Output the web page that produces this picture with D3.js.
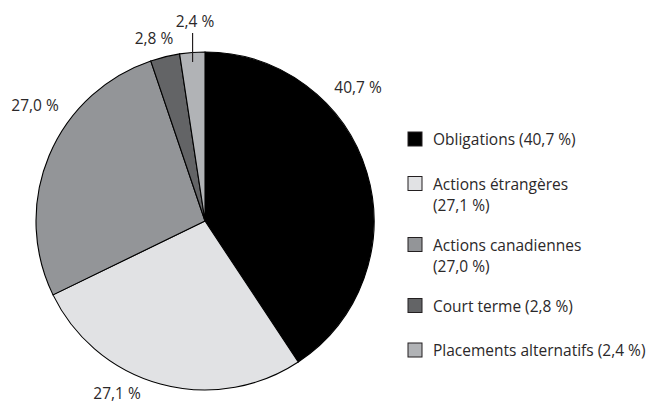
<!DOCTYPE html>
<html lang="fr">
<head>
    <meta charset="utf-8">
    <title>Répartition de l'actif</title>
    <script src="https://d3js.org/d3.v7.min.js"></script>
    <style>
        body { margin: 0; background: #fff; }
        text { font-family: "Open Sans", "Noto Sans", sans-serif; fill: #2b2829; }
    </style>
</head>
<body>
<script>
    // Data
    const categories = ["Obligations", "Actions étrangères", "Actions canadiennes", "Court terme", "Placements alternatifs"];
    const values     = [40.7, 27.1, 27.0, 2.8, 2.4];
    const colors     = ["#000000", "#e1e2e4", "#939598", "#636466", "#b1b3b6"];
    // legend entries that wrap the value onto a second line
    const wrapLegend = [false, true, true, false, false];

    // Layout
    const width = 657, height = 404;
    const cx = 205, cy = 221, radius = 169;
    // label baseline offsets from the pie centre (placed by hand in the original)
    const labelOffsets = [[153, -128], [-88, 178], [-170, -110], [-51, -177], [-10, -194]];

    const fmt = v => d3.format(".1f")(v).replace(".", ",") + " %";

    const svg = d3.select("body").append("svg")
        .attr("width", width)
        .attr("height", height);

    const g = svg.append("g")
        .attr("transform", `translate(${cx},${cy})`);

    const pie = d3.pie().sort(null).value(d => d);
    const arc = d3.arc().innerRadius(0).outerRadius(radius);
    const arcs = pie(values);

    // slices
    g.selectAll("path.slice")
        .data(arcs)
        .enter()
        .append("path")
        .attr("class", "slice")
        .attr("d", arc)
        .attr("fill", (d, i) => colors[i])
        .attr("stroke", "#000")
        .attr("stroke-width", 1.1);

    // leader line for the smallest slice
    const last = arcs[arcs.length - 1];
    const midA = (last.startAngle + last.endAngle) / 2;
    const leaderX = Math.sin(midA) * 165;
    g.append("line")
        .attr("x1", leaderX).attr("x2", leaderX)
        .attr("y1", -159).attr("y2", -188)
        .attr("stroke", "#231f20")
        .attr("stroke-width", 1.2);

    // percentage labels
    g.selectAll("text.pct")
        .data(arcs)
        .enter()
        .append("text")
        .attr("class", "pct")
        .attr("x", (d, i) => labelOffsets[i][0])
        .attr("y", (d, i) => labelOffsets[i][1])
        .attr("text-anchor", "middle")
        .style("font-size", "15.5px")
        .text(d => fmt(d.data));

    // legend
    const legend = svg.append("g").attr("transform", "translate(408,132)");
    let yPos = 0;
    categories.forEach((c, i) => {
        const item = legend.append("g").attr("transform", `translate(0,${yPos})`);
        item.append("rect")
            .attr("width", 14).attr("height", 14)
            .attr("fill", colors[i])
            .attr("stroke", "#231f20")
            .attr("stroke-width", 1);
        const t = item.append("text")
            .attr("x", 25).attr("y", 13)
            .style("font-size", "15.5px");
        if (wrapLegend[i]) {
            t.append("tspan").attr("x", 25).text(c);
            t.append("tspan").attr("x", 25).attr("dy", 21).text("(" + fmt(values[i]) + ")");
            yPos += 61;
        } else {
            t.text(c + " (" + fmt(values[i]) + ")");
            yPos += 44.5;
        }
    });
</script>
</body>
</html>
